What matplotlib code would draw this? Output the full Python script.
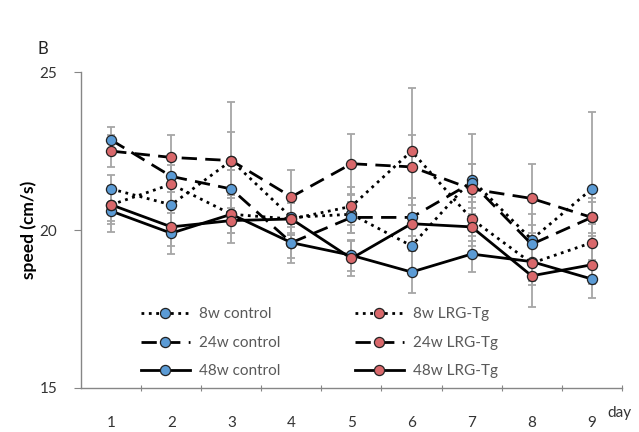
import numpy as np
import matplotlib
matplotlib.use("Agg")
import matplotlib.pyplot as plt

plt.rcParams['font.family'] = ['Lato', 'DejaVu Sans']

days = [1, 2, 3, 4, 5, 6, 7, 8, 9]
day_labels = ['1', '2', '3', '4', '5', '6', '7', '8', '9']

# mean speed (cm/s)
ctrl_8w = [21.3, 20.8, 22.2, 20.4, 20.5, 19.5, 21.6, 19.7, 21.3]
ctrl_24w = [22.85, 21.7, 21.3, 19.6, 20.4, 20.4, 21.5, 19.55, 20.4]
ctrl_48w = [20.6, 19.9, 20.5, 19.6, 19.2, 18.67, 19.24, 19.0, 18.45]
tg_8w = [20.8, 21.45, 20.5, 20.35, 20.75, 22.5, 20.35, 18.95, 19.6]
tg_24w = [22.5, 22.3, 22.2, 21.05, 22.1, 22.0, 21.3, 21.0, 20.4]
tg_48w = [20.8, 20.1, 20.3, 20.35, 19.1, 20.2, 20.1, 18.55, 18.9]

# error bars (SEM)
err_ctrl_8w = [0.45, 0.6, 0.9, 0.5, 0.6, 0.9, 1.45, 0.8, 2.45]
err_ctrl_24w = [0.4, 0.5, 0.6, 0.5, 0.5, 0.6, 0.6, 0.6, 0.6]
err_ctrl_48w = [0.65, 0.65, 0.6, 0.65, 0.5, 0.67, 0.56, 0.6, 0.6]
err_tg_8w = [0.5, 0.6, 0.6, 0.5, 0.6, 2.0, 0.7, 0.7, 0.6]
err_tg_24w = [0.5, 0.7, 1.85, 0.85, 0.95, 1.0, 0.8, 1.1, 0.5]
err_tg_48w = [0.6, 0.6, 0.7, 0.5, 0.55, 0.6, 0.6, 1.0, 0.6]

blue = '#5b9bd5'
red = '#d9686b'
dash = (0, (5.5, 3))

series = [
    ('8w control', ctrl_8w, err_ctrl_8w, ':', blue),
    ('24w control', ctrl_24w, err_ctrl_24w, dash, blue),
    ('48w control', ctrl_48w, err_ctrl_48w, '-', blue),
    ('8w LRG-Tg', tg_8w, err_tg_8w, ':', red),
    ('24w LRG-Tg', tg_24w, err_tg_24w, dash, red),
    ('48w LRG-Tg', tg_48w, err_tg_48w, '-', red),
]

fig = plt.figure(figsize=(6.39, 4.32), dpi=100)
ax = fig.add_axes([0.127, 0.102, 0.846, 0.731])

for name, vals, err, ls, col in series:
    ax.errorbar(days, vals, yerr=err, fmt='none', ecolor='#a6a6a6',
                elinewidth=1.3, capsize=3, capthick=1.3, zorder=1)
for name, vals, err, ls, col in series:
    ax.plot(days, vals, linestyle=ls, color='black', lw=2.0,
            marker='o', markersize=7.3, markerfacecolor=col,
            markeredgecolor='#222222', markeredgewidth=0.9,
            label=name, zorder=3)

ax.set_xlim(0.5, 9.5)
ax.set_ylim(15, 25)
ax.set_yticks([15, 20, 25])
ax.set_xticks(np.arange(1.5, 9.6, 1.0))
ax.set_xticklabels([])
ax.set_xticks(days, minor=True)
ax.set_xticklabels(day_labels, minor=True)
ax.tick_params(axis='x', which='major', direction='inout', length=5,
               color='#868686')
ax.tick_params(axis='x', which='minor', length=0, pad=20, labelsize=11,
               labelcolor='#333333')
ax.tick_params(axis='y', direction='out', length=5, color='#868686',
               pad=12, labelsize=11, labelcolor='#333333')

for s in ['top', 'right']:
    ax.spines[s].set_visible(False)
for s in ['left', 'bottom']:
    ax.spines[s].set_color('#868686')
    ax.spines[s].set_linewidth(1.0)

ax.set_ylabel('speed (cm/s)', fontsize=12.5, fontweight='bold', labelpad=2)
fig.text(0.970, 0.035, 'day', fontsize=11, color='#333333', ha='center')
fig.text(0.058, 0.875, 'B', fontsize=12, color='#222222', ha='left')

ax.legend(ncol=2, loc='lower left', bbox_to_anchor=(0.11, 0.03),
          frameon=False, fontsize=11, labelcolor='#595959', numpoints=1,
          handlelength=3.2, handletextpad=0.6, columnspacing=4.9,
          labelspacing=0.95, borderpad=0, borderaxespad=0)

fig.savefig('out.png', dpi=100)
